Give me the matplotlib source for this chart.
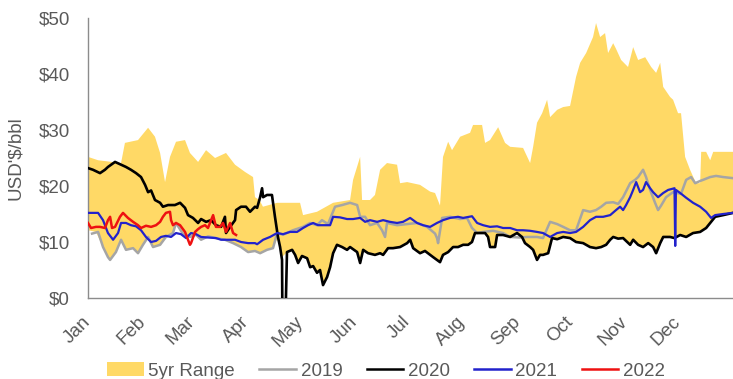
import numpy as np
import matplotlib
matplotlib.use("Agg")
import matplotlib.pyplot as plt
from matplotlib.patches import Patch
from matplotlib.lines import Line2D
from matplotlib.transforms import ScaledTranslation

plt.rcParams["font.family"] = ["Liberation Sans", "DejaVu Sans"]

# ---- data (day of year, USD/bbl) ----
month_labels = ["Jan", "Feb", "Mar", "Apr", "May", "Jun",
                "Jul", "Aug", "Sep", "Oct", "Nov", "Dec"]
month_starts = [0, 31, 59, 90, 120, 151, 181, 212, 243, 273, 304, 334]

range_hi_days = [0, 5.7, 18.7, 20.9, 28.3, 34, 37.9, 40.8, 43.6, 46.4, 49.8, 54.9, 57.7,
                 62.3, 66.8, 71.9, 78.1, 83.2, 88.9, 93.4, 94.5, 97, 99, 107, 120, 121.7,
                 129.6, 138.7, 148.3, 150, 154, 155.1, 159.6, 162.4, 165.3, 169.2, 174.9,
                 176.6, 180.6, 187.9, 193.6, 196.4, 199.2, 200.9, 203.8, 206, 210.6, 216.2,
                 217.9, 223, 224.7, 227.5, 232.1, 236, 238.9, 246.2, 250.2, 251.9, 254.1,
                 257, 259.8, 261.5, 265.5, 268.9, 272.8, 276.2, 278.5, 281.9, 285.8, 287.5,
                 289.8, 292.6, 294.3, 297.2, 298.8, 301.7, 305.6, 308.5, 311.3, 315.3, 318.7,
                 321.5, 323.8, 325.5, 329.4, 331.1, 333.9, 335.6, 337.9, 340.7, 344.1, 346.4,
                 347, 349.8, 352.1, 353.8, 365]
range_hi_vals = [25.2, 24.6, 24.1, 27.7, 28.2, 30.4, 28.8, 25.9, 20.7, 25.2, 27.9, 28.2, 25.9,
                 24.3, 26.4, 25.0, 25.9, 23.8, 22.5, 21.6, 18.0, 17.5, 16.3, 17.0, 17.0, 14.8,
                 15.4, 17.0, 17.5, 21.1, 25.2, 17.5, 17.5, 18.4, 22.9, 24.1, 23.8,
                 20.5, 20.7, 20.2, 19.0, 18.75, 16.5, 25.2, 27.9, 26.4, 28.8, 29.5,
                 30.9, 30.9, 27.7, 28.2, 30.5, 27.7, 27.0, 26.8, 24.1, 27.0, 31.3,
                 33.0, 35.4, 32.3, 33.6, 34.1, 34.3, 39.5, 42.0, 43.75, 46.6, 49.1,
                 46.6, 47.3, 43.75, 45.5, 44.5, 42.5, 41.25, 44.8, 42.5, 43.0, 41.25,
                 40.2, 42.0, 37.7, 35.9, 35.4, 33.0, 33.0, 25.2, 22.9, 20.5, 20.5,
                 26.1, 26.1, 24.6, 26.1, 26.1]

range_lo_days = [0, 4.5, 8.5, 11.3, 12.5, 15.8, 18.7, 21.5, 25.5, 28.3, 31.1, 34, 36.8, 40.8,
                 44.1, 48.1, 49.8, 53.8, 57.7, 61.1, 64, 67.9, 72.4, 77.5, 82.1, 86.6, 90.6,
                 94.5, 97.4, 101.3, 104.7, 107, 108.7, 109.8, 110.4, 112.6, 115.5, 117.2,
                 118.9, 121.1, 124, 125.7, 127.4, 129.6, 131.3, 133, 135.3, 137, 138.7, 140.9,
                 143.8, 146.6, 148.3, 152.3, 154, 155.7, 158.5, 162.4, 165.3, 167, 169.8,
                 172.6, 176.6, 180.6, 182.3, 184, 187.9, 190.7, 193.6, 195.3, 197.5, 199.2,
                 200.9, 203.8, 206.6, 209.4, 212.3, 215.1, 217.3, 219, 221.9, 224.7, 226.4,
                 227.5, 230.4, 231.5, 234.9, 238.9, 242.8, 245.6, 247.3, 250.2, 251.9, 254.1,
                 255.8, 257.5, 260.4, 262.6, 265.5, 268.9, 272.8, 276.2, 280.2, 284.1, 287.5,
                 290.4, 293.2, 295.5, 297.2, 300, 302.8, 306.8, 308.5, 311.3, 314.1, 317,
                 319.8, 321.5, 323.8, 325.5, 329.4, 331.9, 335.1, 338.5, 342.4, 346.4, 349.8,
                 352.1, 354.9, 359.4, 365]
range_lo_vals = [12.1, 11.8, 9.1, 7.3, 6.8, 8.2, 10.4, 8.6, 8.9, 8.0, 9.5, 10.9, 9.1, 9.5,
                 10.9, 11.6, 13.4, 11.4, 10.9, 11.3, 10.4, 11.0, 10.7, 10.4, 9.8, 9.1, 8.2,
                 8.4, 8.0, 8.6, 8.9, 10.5, 9.1, 6.8, 7.5, 8.2, 8.6, 7.7,
                 6.25, 7.5, 7.1, 5.5, 5.7, 4.5, 5.0, 2.3, 3.75, 5.5, 8.0, 9.5,
                 9.1, 8.6, 9.1, 8.2, 6.25, 8.6, 8.0, 7.7, 8.0, 7.7, 8.9,
                 8.9, 9.1, 9.8, 10.4, 8.9, 8.0, 8.4, 7.7, 7.3, 6.8, 6.4,
                 7.7, 8.2, 9.1, 9.1, 9.5, 9.5, 10.0, 11.6, 11.6, 11.6, 10.9,
                 9.1, 9.1, 11.25, 11.25, 10.9, 11.6, 10.9, 9.8, 9.1, 8.6, 6.8,
                 7.7, 7.7, 8.0, 10.7, 10.5, 10.9, 10.7, 10.0, 9.8, 9.1, 8.9,
                 9.1, 9.5, 10.4, 10.9, 10.6, 10.7, 9.5, 10.4, 9.5, 9.1, 9.8,
                 9.1, 8.0, 9.8, 10.9, 10.9, 10.7, 11.25, 10.9, 11.6, 11.8, 12.5,
                 13.4, 14.5, 14.8, 15.2]

days_2019 = [2.3, 5.7, 8.5, 11.3, 12.5, 15.8, 18.7, 21.5, 25.5, 28.3, 31.1, 34, 36.8, 40.8,
             44.1, 48.1, 49.8, 53.8, 57.7, 61.1, 64, 67.9, 72.4, 77.5, 82.1, 86.6, 90.6, 94.5,
             97.4, 101.3, 104.7, 107, 110.4, 116, 121.7, 125.7, 129.6, 132.4, 135.8, 139.8,
             143.8, 148.3, 152.3, 154, 156.8, 159.6, 163.6, 166.4, 168.1, 169.2, 174.9, 180.6,
             186.2, 191.9, 196.4, 197.5, 198.1, 200.4, 204.9, 210.6, 214.5, 217.3, 220.2,
             223.6, 229.2, 234.9, 238.9, 244.5, 248.5, 254.1, 257.5, 261.5, 265.5, 268.9,
             272.8, 276.2, 280.2, 284.1, 287.5, 290.4, 293.2, 297.2, 300, 302.8, 306.8, 309.6,
             311.3, 314.1, 315.8, 318.1, 320.9, 322.6, 324.3, 327.1, 331.1, 335.6, 338.5,
             341.3, 343.6, 346.4, 348.1, 352.1, 355.4, 359.4, 365]
vals_2019 = [11.5, 11.8, 9.1, 7.3, 6.8, 8.2, 10.4, 8.6, 8.9, 8.0, 9.5, 10.9, 9.1, 9.5,
             10.9, 11.6, 13.4, 11.4, 10.9, 11.3, 10.4, 11.0, 10.7, 10.4, 9.8, 9.1, 8.2, 8.4,
             8.0, 8.6, 8.9, 11.6, 11.3, 12.1, 12.7, 13.4, 13.0, 13.9, 13.2, 16.3,
             16.6, 17.0, 16.6, 14.5, 14.5, 13.0, 13.4, 12.1, 10.9, 13.4, 13.0, 13.2,
             13.4, 12.7, 11.5, 10.7, 9.8, 14.3, 14.5, 14.1, 14.3, 12.5, 11.6,
             11.8, 12.0, 11.6, 10.9, 10.8, 10.9, 10.9, 10.7, 13.6, 13.2, 12.7,
             12.1, 12.1, 15.7, 15.4, 15.7, 16.3, 17.0, 17.1, 16.8, 18.0, 20.5, 21.1,
             21.6, 22.9, 21.6, 19.3, 17.0, 15.7, 16.5, 18.0, 18.9, 18.6, 21.1,
             21.6, 20.5, 20.9, 21.1, 21.6, 21.8, 21.6, 21.4]

days_2020 = [0, 2.8, 6.8, 9.6, 11.3, 15.3, 18.7, 21.5, 24.3, 27.2, 30, 32.3, 34, 35.7, 37.9,
             40.8, 42.4, 45.3, 49.2, 52.1, 54.9, 56.6, 59.4, 62.3, 64, 66.8, 69.6, 72.4, 75.3,
             77.5, 78.1, 80.4, 83.2, 83.8, 86.6, 89.4, 91.7, 94.5, 95.7, 97.4, 98.5, 99.1,
             101.3, 104.1, 105.8, 107.5, 108.7, 109.8, 110.0, 111.8, 112.6, 115.5, 117.2,
             118.9, 121.1, 124, 125.7, 127.4, 129.6, 131.3, 133, 135.3, 137, 138.7, 140.9,
             143.8, 146.6, 148.3, 152.3, 154, 155.7, 158.5, 162.4, 165.3, 167, 169.8, 172.6,
             176.6, 180.6, 182.3, 184, 187.9, 190.7, 193.6, 195.3, 197.5, 199.2, 200.9, 203.8,
             206.6, 209.4, 212.3, 215.1, 217.3, 219, 221.9, 224.7, 226.4, 227.5, 230.4, 231.5,
             234.9, 238.9, 242.8, 245.6, 247.3, 250.2, 251.9, 254.1, 255.8, 257.5, 260.4,
             262.6, 265.5, 268.9, 272.8, 276.2, 280.2, 284.1, 287.5, 290.4, 293.2, 295.5,
             297.2, 300, 302.8, 306.8, 308.5, 311.3, 314.1, 317, 319.8, 321.5, 323.8, 325.5,
             329.4, 331.9, 335.1, 338.5, 342.4, 346.4, 349.8, 352.1, 354.9, 359.4, 365]
vals_2020 = [23.2, 22.9, 22.3, 22.9, 23.4, 24.3, 23.8, 23.4, 22.9, 22.3, 21.6, 20.2, 18.9, 19.2,
             17.5, 17.0, 16.3, 16.6, 16.6, 17.0, 16.1, 14.8, 14.3, 13.4, 14.1, 13.6, 13.9, 13.0,
             12.7, 14.5, 11.6, 12.7, 13.9, 15.7, 16.3, 16.3, 15.4, 16.3, 16.1, 18.0, 19.6, 18.0,
             18.4, 18.4, 14.5, 10.9, 9.1, 6.8, -3.0, -3.0, 8.2, 8.6, 7.7,
             6.25, 7.5, 7.1, 5.5, 5.7, 4.5, 5.0, 2.3, 3.75, 5.5, 8.0, 9.5,
             9.1, 8.6, 9.1, 8.2, 6.25, 8.6, 8.0, 7.7, 8.0, 7.7, 8.9, 8.9,
             9.1, 9.8, 10.4, 8.9, 8.0, 8.4, 7.7, 7.3, 6.8, 6.4, 7.7, 8.2,
             9.1, 9.1, 9.5, 9.5, 10.0, 11.6, 11.6, 11.6, 10.9, 9.1, 9.1, 11.25,
             11.25, 10.9, 11.6, 10.9, 9.8, 9.1, 8.6, 6.8, 7.7, 7.7, 8.0,
             10.7, 10.5, 10.9, 10.7, 10.0, 9.8, 9.1, 8.9, 9.1, 9.5, 10.4,
             10.9, 10.6, 10.7, 9.5, 10.4, 9.5, 9.1, 9.8, 9.1, 8.0, 9.8, 10.9,
             10.9, 10.7, 11.25, 10.9, 11.6, 11.8, 12.5, 13.4, 14.5, 14.8, 15.2]

days_2021 = [0, 5.7, 8.5, 11.3, 14.2, 17, 18.7, 21.5, 24.3, 27.2, 30, 32.8, 35.7, 38.5, 41.3,
             44.1, 47, 49.8, 52.6, 55.5, 58.3, 61.1, 64, 67.9, 72.4, 75.3, 79.2, 83.2, 86.6,
             90.6, 94.5, 95.7, 99.1, 103, 107, 110.4, 114.3, 118.3, 121.7, 124.5, 127.4,
             130.2, 134.1, 137, 138.7, 142.6, 146.6, 150, 154, 156.8, 159.6, 163.6, 167,
             170.9, 174.9, 178.3, 182.3, 186.2, 189.6, 193.6, 197.5, 200.9, 204.9, 209.4,
             212.3, 217.3, 220.2, 223.6, 227.5, 231.5, 234.9, 238.9, 242.8, 246.2, 250.2,
             254.1, 257.5, 261.5, 265.5, 268.9, 272.8, 276.2, 280.2, 284.1, 287.5, 291.5,
             295.5, 298.8, 301.1, 302.8, 304.5, 306.8, 308.5, 310.2, 312.4, 314.1, 315.8,
             318.1, 319.8, 322.6, 325.5, 328.3, 331.9, 332.3, 332.7, 335.1, 338.5, 342.4,
             346.4, 349.8, 352.6, 354.9, 359.4, 365]
vals_2021 = [15.2, 15.2, 13.9, 11.6, 10.4, 11.6, 13.4, 13.4, 13.0, 12.8, 12.1, 10.9, 10.0, 10.2,
             10.9, 11.1, 10.9, 11.6, 11.4, 10.7, 11.6, 11.4, 10.9, 10.8, 10.7, 10.4, 10.4, 10.4,
             10.0, 9.8, 9.8, 9.6, 10.4, 10.9, 11.6, 11.4, 11.8, 11.8, 12.5, 13.0, 13.4,
             13.0, 13.0, 13.0, 14.5, 14.4, 14.1, 14.1, 14.3, 13.6, 13.9, 13.6, 13.9,
             13.6, 13.4, 13.6, 14.3, 13.4, 13.0, 12.7, 13.4, 13.9, 14.3, 14.5,
             14.3, 14.6, 13.4, 13.0, 12.7, 12.8, 12.5, 12.5, 12.1, 12.1, 12.0,
             11.8, 11.6, 10.9, 11.6, 11.8, 11.6, 11.8, 12.7, 13.9, 14.5, 14.5,
             14.8, 15.7, 16.3, 15.7, 16.6, 18.0, 19.3, 20.7, 18.9, 19.3, 20.7,
             19.6, 18.9, 18.0, 18.75, 19.3, 19.6, 9.3, 19.3, 18.75, 17.9, 17.0,
             16.3, 15.4, 14.3, 14.8, 15.0, 15.2]

days_2022 = [0, 1.7, 4.5, 6.8, 9.6, 11.3, 12.5, 13.6, 15.3, 18.1, 19.8, 22.6, 25.5, 28.3, 30,
             32.8, 35.7, 38.5, 40.8, 42.4, 44.1, 46.4, 47, 48.1, 49.8, 52.1, 54.9, 56.6, 57.7,
             58.3, 60.6, 62.3, 64, 66.2, 67.9, 70.8, 72.4, 74.7, 76.4, 78.1, 80.4, 82.1, 83.8]
vals_2022 = [13.4, 12.5, 12.7, 12.7, 12.5, 13.9, 14.5, 12.5, 12.7, 14.5, 15.2, 14.3, 13.6, 13.0,
             12.5, 12.9, 12.7, 13.0, 13.6, 14.5, 15.2, 15.4, 13.9, 13.0, 13.4, 13.0, 11.8, 10.4,
             9.5, 9.8, 11.8, 12.3, 12.7, 13.0, 12.5, 14.8, 12.7, 12.7, 13.4, 11.8, 13.4, 11.6,
             11.25]

# ---- styling ----
C_RANGE = "#FFD966"
C_2019 = "#A5A5A5"
C_2020 = "#000000"
C_2021 = "#2222CC"
C_2022 = "#EE1111"
C_TEXT = "#595959"
FS = 13.5

fig = plt.figure(figsize=(7.33, 3.79), dpi=100)
ax = fig.add_axes([88 / 733, 1 - 298 / 379, 645 / 733, 280 / 379])

# 5-year range band: upper edge forward, lower edge back
poly_x = list(range_hi_days) + list(range_lo_days[::-1])
poly_y = list(range_hi_vals) + list(range_lo_vals[::-1])
ax.fill(poly_x, poly_y, color=C_RANGE, lw=0, zorder=1)

ax.plot(days_2019, vals_2019, color=C_2019, lw=1.8, zorder=2)
ax.plot(days_2020, vals_2020, color=C_2020, lw=1.9, zorder=3)
ax.plot(days_2021, vals_2021, color=C_2021, lw=1.6, zorder=4)
ax.plot(days_2022, vals_2022, color=C_2022, lw=1.8, zorder=5)

ax.set_xlim(0, 365)
ax.set_ylim(0, 50)
ax.set_yticks([0, 10, 20, 30, 40, 50])
ax.set_yticklabels([f"${v}" for v in [0, 10, 20, 30, 40, 50]])
ax.set_xticks(month_starts)
ax.set_xticklabels(month_labels, rotation=45, ha="right", va="top")

ax.tick_params(axis="both", length=0, labelsize=FS, labelcolor=C_TEXT)
ax.tick_params(axis="y", pad=13)
ax.tick_params(axis="x", pad=11)
offset = ScaledTranslation(6 / 100, 0, fig.dpi_scale_trans)
for lab in ax.get_xticklabels():
    lab.set_transform(lab.get_transform() + offset)

for side in ("top", "right"):
    ax.spines[side].set_visible(False)
for side in ("left", "bottom"):
    ax.spines[side].set_color("#8C8C8C")
    ax.spines[side].set_linewidth(1.0)

ax.set_ylabel("USD'$/bbl", fontsize=FS, color=C_TEXT)
ax.yaxis.set_label_coords(-0.099, 0.5)

handles = [
    Patch(facecolor=C_RANGE, edgecolor="none", label="5yr Range"),
    Line2D([], [], color=C_2019, lw=1.8, label="2019"),
    Line2D([], [], color=C_2020, lw=1.8, label="2020"),
    Line2D([], [], color=C_2021, lw=1.8, label="2021"),
    Line2D([], [], color=C_2022, lw=1.8, label="2022"),
]
leg = fig.legend(handles=handles, loc="center", ncol=5, frameon=False,
                 bbox_to_anchor=(386 / 733, 1 - 371 / 379), fontsize=FS,
                 handlelength=1.95, handletextpad=0.25, columnspacing=1.3,
                 handleheight=0.7, borderpad=0)
for t in leg.get_texts():
    t.set_color(C_TEXT)

fig.savefig("out.png", dpi=100)
